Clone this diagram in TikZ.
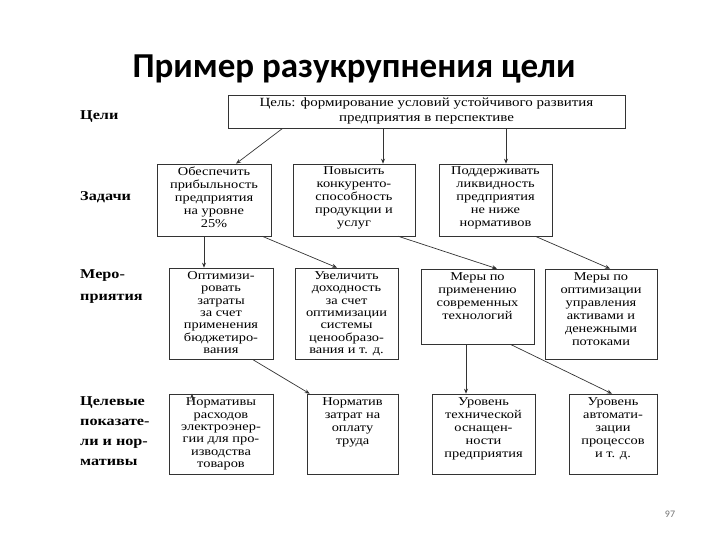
\documentclass[tikz,border=0pt]{standalone}
\usepackage{fontspec}
\setmainfont{Liberation Serif}
\newfontfamily\boxfont[FakeStretch=1.2]{Liberation Serif}
\newfontfamily\titlefont{Carlito}
\newfontfamily\numfont{Carlito}
\usetikzlibrary{arrows.meta}
\begin{document}
\begin{tikzpicture}[x=1pt,y=-1pt,
  box/.style={draw=black!80, line width=0.6pt, inner sep=0pt},
  txt/.style={align=center, inner sep=0pt, font=\boxfont\fontsize{12}{13}\selectfont},
  txts/.style={align=center, inner sep=0pt, font=\boxfont\fontsize{12}{12.4}\selectfont},
  lab/.style={anchor=west, align=left, inner sep=0pt, font=\boxfont\bfseries\fontsize{13.5}{20}\selectfont},
  arr/.style={draw=black!80, line width=0.7pt, -{Stealth[length=5pt,width=4pt]}}]
\useasboundingbox (0,0) rectangle (720,540);
% title
\node[font=\titlefont\bfseries\fontsize{35}{38}\selectfont] (title) at (354,69) {Пример разукрупнения цели};
% left labels
\node[lab] (l1) at (80,117) {Цели};
\node[lab] (l2) at (80,197) {Задачи};
\node[lab, font=\boxfont\bfseries\fontsize{13.5}{22}\selectfont] (l3) at (80,287) {Меро-\\приятия};
\node[lab] (l4) at (80,431) {Целевые\\показате-\\ли и нор-\\мативы};
% boxes
\node[box, minimum width=397, minimum height=33] (top) at (426.5,111.5) {};
\node[txt, anchor=north, font=\boxfont\fontsize{12.5}{15}\selectfont] (toptxt) at ([yshift=-3]top.north) {Цель: формирование условий устойчивого развития\\предприятия в перспективе};
\node[box, minimum width=114, minimum height=72] (t1) at (214,200) {};
\node[box, minimum width=122, minimum height=72] (t2) at (354,200) {};
\node[box, minimum width=113, minimum height=72] (t3) at (495.5,200) {};
\node[txt, anchor=north] (t1txt) at ([yshift=-3]t1.north) {Обеспечить\\прибыльность\\предприятия\\на уровне\\25\%};
\node[txt, anchor=north] (t2txt) at ([yshift=-3]t2.north) {Повысить\\конкуренто-\\способность\\продукции и\\услуг};
\node[txt, anchor=north] (t3txt) at ([yshift=-3]t3.north) {Поддерживать\\ликвидность\\предприятия\\не ниже\\нормативов};
\node[box, minimum width=104, minimum height=91] (m1) at (221,313.5) {};
\node[box, minimum width=103, minimum height=91] (m2) at (346.5,313.5) {};
\node[box, minimum width=113, minimum height=75] (m3) at (477.5,306.5) {};
\node[box, minimum width=112, minimum height=90] (m4) at (601,314) {};
\node[txts, anchor=north] (m1txt) at ([yshift=-3.5]m1.north) {Оптимизи-\\ровать\\затраты\\за счет\\применения\\бюджетиро-\\вания};
\node[txts, anchor=north] (m2txt) at ([yshift=-3.5]m2.north) {Увеличить\\доходность\\за счет\\оптимизации\\системы\\ценообразо-\\вания и т. д.};
\node[txt, anchor=north] (m3txt) at ([yshift=-4]m3.north) {Меры по\\применению\\современных\\технологий};
\node[txt, anchor=north] (m4txt) at ([yshift=-4]m4.north) {Меры по\\оптимизации\\управления\\активами и\\денежными\\потоками};
\node[box, minimum width=104, minimum height=80] (i1) at (221,434) {};
\node[box, minimum width=91, minimum height=80] (i2) at (352.5,434) {};
\node[box, minimum width=103, minimum height=80] (i3) at (483.5,434) {};
\node[box, minimum width=88, minimum height=80] (i4) at (613,434) {};
\node[txts, anchor=north] (i1txt) at ([yshift=-4]i1.north) {Нормативы\\расходов\\электроэнер-\\гии для про-\\изводства\\товаров};
\node[txt, anchor=north] (i2txt) at ([yshift=-4]i2.north) {Норматив\\затрат на\\оплату\\труда};
\node[txt, anchor=north] (i3txt) at ([yshift=-4]i3.north) {Уровень\\технической\\оснащен-\\ности\\предприятия};
\node[txt, anchor=north] (i4txt) at ([yshift=-4]i4.north) {Уровень\\автомати-\\зации\\процессов\\и т. д.};
% thicker right edges (scan shadow)
\foreach \n in {t1,t2,t3,m1,m2,m3,m4,i1,i2,i3,i4}
  \draw[black!80, line width=1.3pt] (\n.north east) -- (\n.south east);
% connectors
\draw[arr] ([xshift=55]top.south west) -- ([xshift=22]t1.north);
\draw[arr] ([xshift=29]t2.north |- top.south) -- ([xshift=29]t2.north);
\draw[arr] ([xshift=10.5]t3.north |- top.south) -- ([xshift=10.5]t3.north);
\draw[arr] ([xshift=-17]m1.north |- t1.south) -- ([xshift=-17]m1.north);
\draw[arr] ([xshift=-9]t1.south east) -- ([xshift=-9.5]m2.north);
\draw[arr] ([xshift=-17]t2.south east) -- ([xshift=19.5]m3.north);
\draw[arr] ([xshift=-17]t3.south east) -- ([xshift=9]m4.north);
\draw[arr] ([xshift=-21]m1.south east) -- ([xshift=3]i2.north west);
\coordinate (i1in) at ([xshift=-29,yshift=-6]i1.north);
\draw[arr] (i1in) -- ([xshift=-29]i1.north);
\draw[arr] ([xshift=-11.5]m3.south) -- ([xshift=-11.5]m3.south |- i3.north);
\draw[arr] ([xshift=-24]m3.south east) -- ([xshift=-1]i4.north);
% page number
\node[font=\numfont\fontsize{10}{12}\selectfont, text=black!55] (pg) at (670,514) {97};
\end{tikzpicture}
\end{document}
